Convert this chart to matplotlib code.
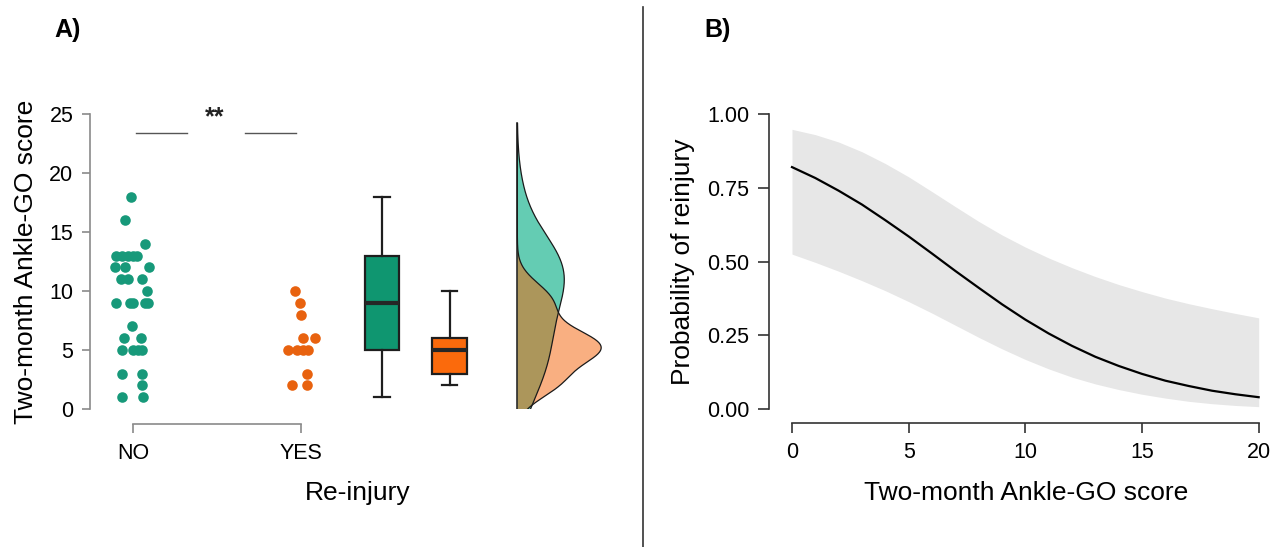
"""Ankle-GO two-panel figure: A) raincloud of 2-month scores by re-injury, B) logistic fit."""
import numpy as np

import matplotlib
matplotlib.use("Agg")
import matplotlib.pyplot as plt  # noqa: E402
from matplotlib.lines import Line2D  # noqa: E402

plt.rcParams['font.family'] = ['Liberation Sans', 'DejaVu Sans']

# ── data ──
groups = ["NO", "YES"]
no_scores = [18, 16, 14, 13, 13, 13, 13, 13, 12, 12, 12, 11, 11, 11, 10,
             9, 9, 9, 9, 9, 7, 6, 6, 5, 5, 5, 5, 3, 3, 2, 1, 1]
no_jitter = [-0.014, -0.049, 0.070, -0.103, -0.067, -0.032, -0.002, 0.022,
             -0.109, -0.049, 0.094, -0.073, -0.032, 0.052, 0.082,
             -0.103, -0.020, -0.002, 0.070, 0.088, -0.008, -0.055, 0.046,
             -0.067, -0.002, 0.028, 0.052, -0.067, 0.052, 0.052, -0.067, 0.058]
yes_scores = [10, 9, 8, 6, 6, 5, 5, 5, 5, 3, 2, 2]
yes_jitter = [-0.036, -0.006, -0.002, 0.012, 0.083, -0.079, -0.022, 0.014,
              0.044, 0.034, -0.052, 0.038]
# box summaries as drawn (median, q1, q3, whisker low, whisker high)
no_box = dict(med=9, q1=5, q3=13, whislo=1, whishi=18, fliers=[])
yes_box = dict(med=5, q1=3, q3=6, whislo=2, whishi=10, fliers=[])

# panel B: fitted probability and 95% band at each score
score = list(range(21))
prob = [0.820, 0.783, 0.740, 0.693, 0.640, 0.585, 0.527, 0.468, 0.411, 0.355, 0.303,
        0.256, 0.214, 0.177, 0.146, 0.119, 0.096, 0.078, 0.062, 0.050, 0.040]
upper = [0.948, 0.930, 0.905, 0.872, 0.832, 0.787, 0.737, 0.686, 0.636, 0.590, 0.549,
         0.512, 0.479, 0.449, 0.422, 0.398, 0.376, 0.357, 0.340, 0.324, 0.309]
lower = [0.525, 0.497, 0.467, 0.435, 0.401, 0.364, 0.325, 0.284, 0.243, 0.204, 0.168,
         0.136, 0.108, 0.085, 0.066, 0.050, 0.037, 0.026, 0.018, 0.012, 0.008]

GREEN, ORANGE = "#17997a", "#e8620f"
W, H = 1280, 547
DENS_TOP = 24.2   # half-eye drawn from 0 up to here


def kde(vals, bw):
    """gaussian density on the plotting grid, scaled to a peak of 1."""
    v = np.asarray(vals, float)
    g = np.linspace(-4, DENS_TOP, 600)
    d = np.exp(-0.5 * ((g[:, None] - v[None, :]) / bw) ** 2).sum(1)
    return g, d / d.max()


fig = plt.figure(figsize=(W / 100, H / 100), dpi=100)

# ── A) ──
a = fig.add_axes([90 / W, (H - 409) / H, 535 / W, 295 / H])
a.set_xlim(0.742, 3.932)
a.set_ylim(0, 25)
a.scatter(1 + np.array(no_jitter), no_scores, s=58, color=GREEN, lw=0, zorder=3)
a.scatter(2 + np.array(yes_jitter), yes_scores, s=58, color=ORANGE, lw=0, zorder=3)

bp = a.bxp([no_box, yes_box], positions=[2.483, 2.886], widths=0.205, capwidths=0.09,
           patch_artist=True, showfliers=False,
           boxprops=dict(linewidth=1.6, edgecolor="#1e1e1e"),
           whiskerprops=dict(linewidth=1.6, color="#1e1e1e"),
           capprops=dict(linewidth=1.6, color="#1e1e1e"),
           medianprops=dict(linewidth=3, color="#262626"))
bp["boxes"][0].set_facecolor("#0f9670")
bp["boxes"][1].set_facecolor("#fb6a0c")

base = 3.29
for vals, bw, col, alpha, peak in [(no_scores, 2.6, "#1bb48f", 0.68, 0.28),
                                   (yes_scores, 1.35, "#f56105", 0.5, 0.50)]:
    g, d = kde(vals, bw)
    a.fill_betweenx(g, base, base + d * peak, facecolor=col, alpha=alpha,
                    edgecolor="none", zorder=2)
    a.plot(base + d * peak, g, color="#1a1a1a", lw=0.9, zorder=2.5)
a.plot([base, base], [0, DENS_TOP], color="#1a1a1a", lw=1.1, zorder=2.5)

# significance marker
a.plot([1.016, 1.322], [23.4, 23.4], color="#555555", lw=1, clip_on=False)
a.plot([1.664, 1.972], [23.4, 23.4], color="#555555", lw=1, clip_on=False)
a.text(1.488, 24.7, "**", ha="center", va="center", fontsize=18, fontweight="bold",
       color="#222222")

for s in ("top", "right"):
    a.spines[s].set_visible(False)
a.spines["left"].set_bounds(0, 25)
a.spines["bottom"].set_bounds(1, 2)
a.spines["bottom"].set_position(("outward", 10.8))
for s in ("left", "bottom"):
    a.spines[s].set_color("#8a8a8a")
    a.spines[s].set_linewidth(1.2)
a.set_yticks([0, 5, 10, 15, 20, 25])
a.set_xticks([1, 2], groups)
a.tick_params(axis="y", length=6, width=1.2, color="#8a8a8a", pad=6, labelsize=15.5)
a.tick_params(axis="x", length=6.5, width=1.2, color="#8a8a8a", pad=7, labelsize=15.5)
a.set_xlabel("Re-injury", fontsize=19, va="center")
a.xaxis.set_label_coords(0.5, (409 - 493) / 295)
a.set_ylabel("Two-month Ankle-GO score", fontsize=19, va="center")
a.yaxis.set_label_coords((26 - 90) / 535, 0.5)

# ── B) ──
b = fig.add_axes([769 / W, (H - 409) / H, 499 / W, 295 / H])
b.set_xlim(-0.985, 20.4)
b.set_ylim(0, 1)
b.fill_between(score, lower, upper, color="#e7e7e7", lw=0)
b.plot(score, prob, color="black", lw=1.6)
for s in ("top", "right"):
    b.spines[s].set_visible(False)
b.spines["left"].set_bounds(0, 1)
b.spines["bottom"].set_bounds(0, 20)
b.spines["bottom"].set_position(("outward", 10.1))
for s in ("left", "bottom"):
    b.spines[s].set_color("#333333")
    b.spines[s].set_linewidth(1.2)
b.set_xticks([0, 5, 10, 15, 20])
b.set_yticks([0, 0.25, 0.5, 0.75, 1.0], ["0.00", "0.25", "0.50", "0.75", "1.00"])
b.tick_params(axis="y", length=8, width=1.2, color="#333333", pad=6, labelsize=15.5)
b.tick_params(axis="x", length=7, width=1.2, color="#333333", pad=7, labelsize=15.5)
b.set_xlabel("Two-month Ankle-GO score", fontsize=19, va="center")
b.xaxis.set_label_coords((1026 - 769) / 499, (409 - 493) / 295)
b.set_ylabel("Probability of reinjury", fontsize=19, va="center")
b.yaxis.set_label_coords((683 - 769) / 499, 0.5)

# panel tags + divider
fig.text(68 / W, 1 - 30 / H, "A)", ha="center", va="center", fontsize=18, fontweight="bold")
fig.text(718 / W, 1 - 30 / H, "B)", ha="center", va="center", fontsize=18, fontweight="bold")
fig.add_artist(Line2D([643 / W, 643 / W], [0, 1 - 7 / H], color="#333333", lw=1.2))

fig.savefig("out.png", dpi=100)
